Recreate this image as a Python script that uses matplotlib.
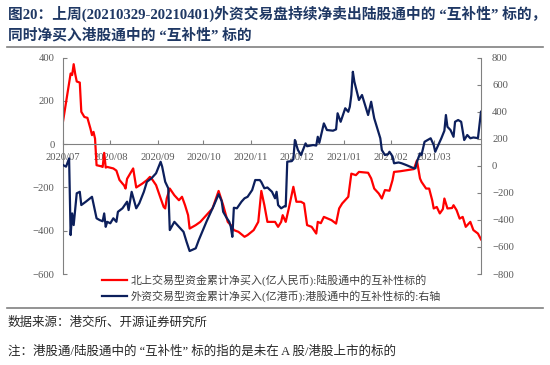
import pandas as pd
import matplotlib
matplotlib.use("Agg")
import matplotlib.pyplot as plt
import matplotlib.dates as mdates
from matplotlib.lines import Line2D

plt.rcParams["font.family"] = ["Liberation Serif", "Noto Sans CJK SC"]

# -------- data --------
red_dates = [
    "2020-07-01", "2020-07-06", "2020-07-07", "2020-07-08", "2020-07-09", "2020-07-10",
    "2020-07-12", "2020-07-13", "2020-07-15", "2020-07-17", "2020-07-19", "2020-07-20",
    "2020-07-21", "2020-07-22", "2020-07-23", "2020-07-26", "2020-07-27", "2020-07-28",
    "2020-07-29", "2020-07-30", "2020-08-03", "2020-08-05", "2020-08-07", "2020-08-09",
    "2020-08-10", "2020-08-11", "2020-08-12", "2020-08-16", "2020-08-18", "2020-08-22",
    "2020-08-25", "2020-08-27", "2020-08-28", "2020-08-31", "2020-09-03", "2020-09-05",
    "2020-09-06", "2020-09-07", "2020-09-09", "2020-09-12", "2020-09-15", "2020-09-17",
    "2020-09-19", "2020-09-21", "2020-09-22", "2020-09-26", "2020-09-29", "2020-10-07",
    "2020-10-11", "2020-10-14", "2020-10-17", "2020-10-19", "2020-10-21", "2020-10-24",
    "2020-10-28", "2020-10-30", "2020-11-03", "2020-11-06", "2020-11-08", "2020-11-10",
    "2020-11-12", "2020-11-17", "2020-11-19", "2020-11-21", "2020-11-22", "2020-11-24",
    "2020-11-26", "2020-11-29", "2020-12-01", "2020-12-04", "2020-12-06", "2020-12-08",
    "2020-12-11", "2020-12-14", "2020-12-15", "2020-12-17", "2020-12-19", "2020-12-24",
    "2020-12-27", "2020-12-29", "2020-12-31", "2021-01-04", "2021-01-06", "2021-01-09",
    "2021-01-11", "2021-01-17", "2021-01-19", "2021-01-21", "2021-01-24", "2021-01-26",
    "2021-01-28", "2021-01-31", "2021-02-02", "2021-02-03", "2021-02-07", "2021-02-16",
    "2021-02-18", "2021-02-20", "2021-02-21", "2021-02-24", "2021-02-26", "2021-02-28",
    "2021-03-01", "2021-03-03", "2021-03-05", "2021-03-07", "2021-03-08", "2021-03-10",
    "2021-03-13", "2021-03-14", "2021-03-16", "2021-03-18", "2021-03-20", "2021-03-22",
    "2021-03-25", "2021-03-27", "2021-03-30", "2021-04-01",
]
red_vals = [
    105, 327, 320, 370, 325, 290,
    285, 150, 126, 122, 72, 42,
    57, 26, -97, -102, -105, -40,
    -108, -105, -112, -122, -165, -182,
    -190, -205, -160, -112, -200, -182,
    -166, -151, -158, -189, -250, -290,
    -297, -251, -205, -236, -259, -243,
    -282, -328, -390, -374, -359, -297,
    -216, -282, -359, -374, -397, -405,
    -428, -420, -397, -359, -216, -282,
    -359, -359, -382, -359, -328, -359,
    -297, -197, -266, -266, -274, -374,
    -382, -413, -359, -365, -336, -351,
    -367, -297, -274, -243, -136, -143,
    -128, -132, -158, -205, -228, -251,
    -212, -215, -166, -128, -125, -115,
    -75, -158, -174, -205, -205, -259,
    -297, -290, -320, -300, -251, -297,
    -295, -282, -305, -344, -336, -382,
    -359, -397, -413, -440,
]

blue_dates = [
    "2020-07-01", "2020-07-03", "2020-07-05", "2020-07-06", "2020-07-07", "2020-07-08",
    "2020-07-10", "2020-07-12", "2020-07-13", "2020-07-16", "2020-07-20", "2020-07-23",
    "2020-07-25", "2020-07-27", "2020-07-28", "2020-07-29", "2020-07-30", "2020-08-01",
    "2020-08-03", "2020-08-05", "2020-08-06", "2020-08-09", "2020-08-12", "2020-08-13",
    "2020-08-15", "2020-08-18", "2020-08-20", "2020-08-23", "2020-08-25", "2020-08-28",
    "2020-08-31", "2020-09-03", "2020-09-04", "2020-09-06", "2020-09-08", "2020-09-09",
    "2020-09-12", "2020-09-15", "2020-09-18", "2020-09-20", "2020-09-22", "2020-09-26",
    "2020-09-28", "2020-10-03", "2020-10-08", "2020-10-11", "2020-10-13", "2020-10-14",
    "2020-10-16", "2020-10-18", "2020-10-19", "2020-10-20", "2020-10-21", "2020-10-23",
    "2020-10-26", "2020-10-28", "2020-10-30", "2020-11-02", "2020-11-04", "2020-11-07",
    "2020-11-08", "2020-11-10", "2020-11-12", "2020-11-15", "2020-11-17", "2020-11-18",
    "2020-11-19", "2020-11-21", "2020-11-23", "2020-11-24", "2020-11-25", "2020-11-28",
    "2020-11-29", "2020-11-30", "2020-12-02", "2020-12-04", "2020-12-07", "2020-12-08",
    "2020-12-12", "2020-12-14", "2020-12-15", "2020-12-16", "2020-12-19", "2020-12-21",
    "2020-12-25", "2020-12-27", "2020-12-28", "2020-12-30", "2021-01-02", "2021-01-04",
    "2021-01-05", "2021-01-06", "2021-01-07", "2021-01-08", "2021-01-11", "2021-01-13",
    "2021-01-15", "2021-01-17", "2021-01-19", "2021-01-21", "2021-01-23", "2021-01-25",
    "2021-01-26", "2021-01-28", "2021-01-30", "2021-01-31", "2021-02-02", "2021-02-03",
    "2021-02-06", "2021-02-08", "2021-02-11", "2021-02-16", "2021-02-17", "2021-02-18",
    "2021-02-20", "2021-02-21", "2021-02-23", "2021-02-25", "2021-02-27", "2021-03-01",
    "2021-03-02", "2021-03-04", "2021-03-06", "2021-03-08", "2021-03-09", "2021-03-10",
    "2021-03-12", "2021-03-14", "2021-03-15", "2021-03-17", "2021-03-19", "2021-03-21",
    "2021-03-23", "2021-03-25", "2021-03-27", "2021-03-30", "2021-04-01",
]
blue_vals = [
    6, -6, 55, -512, -352, -438,
    -203, -192, -290, -265, -229, -388,
    -401, -410, -352, -451, -414, -425,
    -388, -414, -340, -314, -265, -327,
    -192, -314, -277, -192, -118, -92,
    -55, 30, -6, -118, -166, -475,
    -414, -451, -488, -562, -630, -610,
    -549, -414, -290, -210, -260, -340,
    -380, -414, -451, -525, -310, -314,
    -265, -240, -229, -179, -105, -105,
    -120, -166, -160, -192, -240, -192,
    -290, -314, -300, -300, 31, 35,
    50, 191, 117, 80, 166, 145,
    154, 150, 215, 170, 314, 265,
    260, 270, 389, 326, 426, 400,
    437, 524, 696, 622, 487, 524,
    450, 376, 474, 352, 278, 204,
    117, 80, 85, 104, 70, 19,
    25, 19, 6, -18, -18, 30,
    92, 80, 178, 191, 204, 154,
    104, 154, 204, 260, 376, 289,
    265, 215, 326, 339, 326, 191,
    228, 204, 210, 205, 400,
]

month_ticks = ["2020-07-01", "2020-08-01", "2020-09-01", "2020-10-01", "2020-11-01",
               "2020-12-01", "2021-01-01", "2021-02-01", "2021-03-01"]

red_label = "北上交易型资金累计净买入(亿人民币):陆股通中的互补性标的"
blue_label = "外资交易型资金累计净买入(亿港币):港股通中的互补性标的:右轴"
title_1 = "图20：上周(20210329-20210401)外资交易盘持续净卖出陆股通中的 “互补性” 标的，"
title_2 = "同时净买入港股通中的 “互补性” 标的"
source_text = "数据来源：港交所、开源证券研究所"
note_text = "注：港股通/陆股通中的 “互补性” 标的指的是未在 A 股/港股上市的标的"

RED = "#FF0000"
BLUE = "#0C1F5C"
GRAY = "#808080"
TICK_COLOR = "#595959"

W, H = 550, 365
fig = plt.figure(figsize=(W / 100, H / 100), dpi=100)

ax = fig.add_axes([63 / W, 1 - 274 / H, (481 - 63) / W, (274 - 57.7) / H])
ax2 = ax.twinx()

rd = pd.to_datetime(red_dates)
bd = pd.to_datetime(blue_dates)
ax.plot(rd, red_vals, color=RED, lw=1.6, label=red_label)
ax2.plot(bd, blue_vals, color=BLUE, lw=1.6, label=blue_label)

ax.set_xlim(rd[0], rd[-1])
ax.set_ylim(-600, 400)
ax2.set_ylim(-800, 800)
ax.set_yticks(range(-600, 401, 200))
ax2.set_yticks(range(-800, 801, 200))

ax.set_xticks(pd.to_datetime(month_ticks))
ax.xaxis.set_major_formatter(mdates.DateFormatter("%Y/%m"))

for s in ["top", "right"]:
    ax.spines[s].set_visible(False)
for s in ["top", "left", "bottom"]:
    ax2.spines[s].set_visible(False)
ax.spines["bottom"].set_position(("data", 0))
ax.spines["bottom"].set_color(GRAY)
ax.spines["left"].set_color(GRAY)
ax2.spines["right"].set_color(GRAY)

ax.tick_params(axis="x", direction="in", length=3, color=GRAY, labelsize=7.7,
               labelcolor=TICK_COLOR, pad=6)
ax.tick_params(axis="y", direction="in", length=3, color=GRAY, labelsize=7.7,
               labelcolor=TICK_COLOR, pad=6)
ax2.tick_params(axis="y", direction="in", length=3, color=GRAY, labelsize=7.7,
                labelcolor=TICK_COLOR, pad=8)

h1, l1 = ax.get_legend_handles_labels()
h2, l2 = ax2.get_legend_handles_labels()
fig.legend(h1 + h2, l1 + l2, loc="upper left", bbox_to_anchor=(92 / W, 1 - 264 / H),
           frameon=False, fontsize=7.9, handlelength=2.3, handletextpad=0.3,
           labelspacing=0.42, labelcolor="#404040")

# title, separators and footnotes
fig.text(8 / W, 1 - 14 / H, title_1, fontsize=10.6, fontweight="bold", color="#1F3864",
         va="center", ha="left")
fig.text(8 / W, 1 - 35 / H, title_2, fontsize=10.6, fontweight="bold", color="#1F3864",
         va="center", ha="left")
fig.add_artist(Line2D([7 / W, 543 / W], [1 - 47.3 / H] * 2, color=GRAY, lw=1.2))
fig.add_artist(Line2D([7 / W, 543 / W], [1 - 308 / H] * 2, color=GRAY, lw=1.2))
fig.text(8 / W, 1 - 323 / H, source_text, fontsize=9, color="#262626", va="center")
fig.text(8 / W, 1 - 352 / H, note_text, fontsize=9, color="#262626", va="center")

fig.savefig("out.png", dpi=100)
